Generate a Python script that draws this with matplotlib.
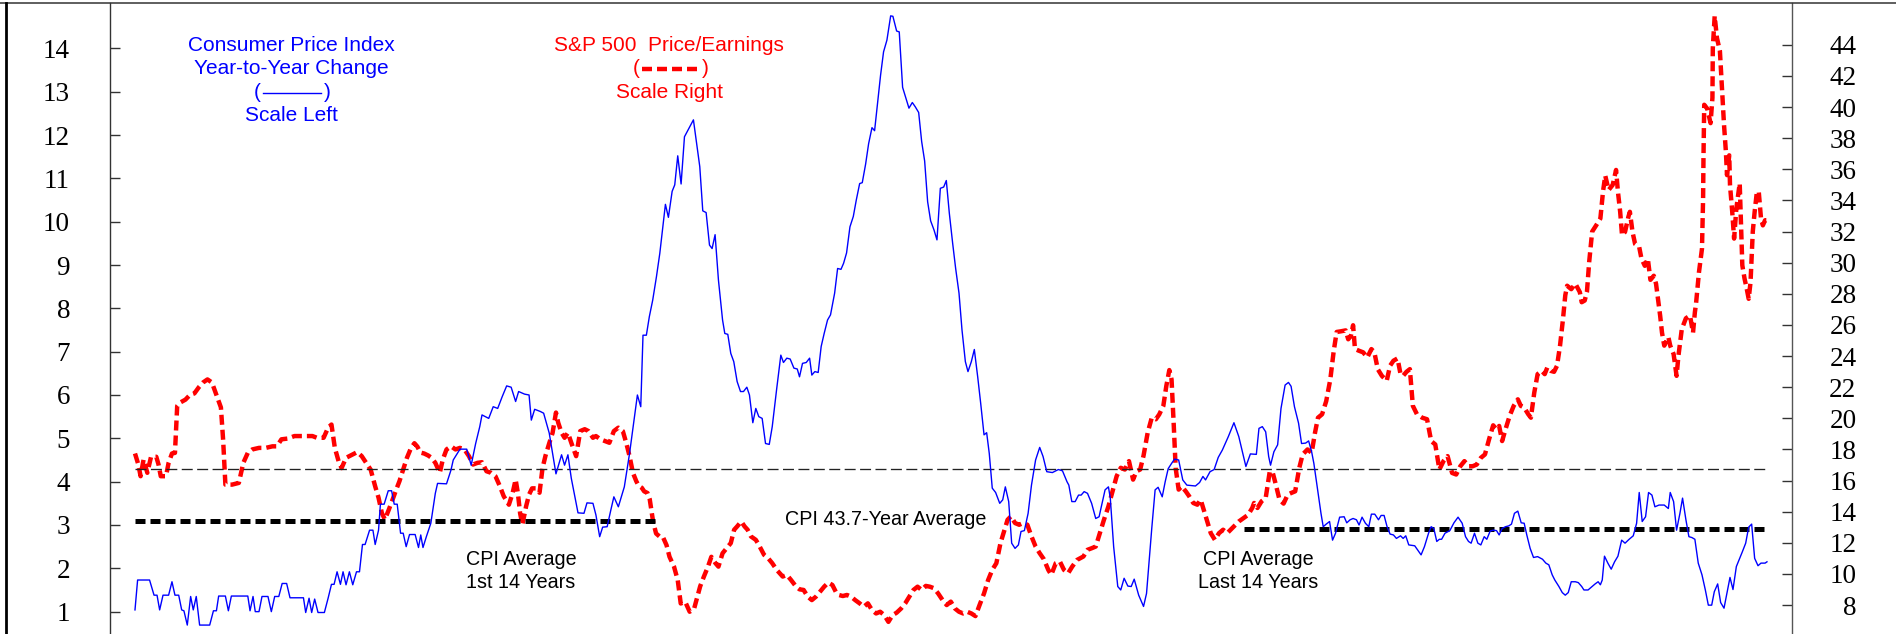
import matplotlib.pyplot as plt
from matplotlib.lines import Line2D

plt.rcParams['lines.scale_dashes'] = False

# years since start of the series (Jan 1960), monthly-ish readings
cpi_points = [
    (0.00, 1.04), (0.07, 1.73), (0.39, 1.73), (0.51, 1.38), (0.59, 1.38), (0.66, 1.04), (0.75, 1.38),
    (0.90, 1.38), (0.99, 1.69), (1.07, 1.38), (1.17, 1.38), (1.25, 1.04), (1.31, 1.02), (1.40, 0.69),
    (1.49, 1.35), (1.56, 1.04), (1.64, 1.35), (1.73, 0.69), (2.00, 0.69), (2.10, 1.02), (2.18, 1.02),
    (2.24, 1.36), (2.42, 1.36), (2.50, 1.02), (2.58, 1.36), (3.02, 1.36), (3.08, 1.02), (3.16, 1.35),
    (3.22, 1.00), (3.32, 1.00), (3.40, 1.35), (3.56, 1.35), (3.65, 1.00), (3.74, 1.35), (3.85, 1.35),
    (3.94, 1.65), (4.06, 1.65), (4.15, 1.32), (4.51, 1.32), (4.57, 0.98), (4.66, 1.31), (4.73, 0.98),
    (4.81, 1.29), (4.90, 0.98), (5.07, 0.98), (5.17, 1.31), (5.26, 1.63), (5.33, 1.63), (5.41, 1.92),
    (5.50, 1.63), (5.57, 1.92), (5.65, 1.62), (5.74, 1.92), (5.83, 1.62), (5.93, 1.92), (6.01, 1.92),
    (6.09, 2.55), (6.16, 2.55), (6.28, 2.88), (6.37, 2.88), (6.43, 2.55), (6.52, 2.88), (6.57, 3.48),
    (6.67, 3.48), (6.78, 3.79), (6.87, 3.79), (6.94, 3.48), (7.02, 3.48), (7.11, 2.81), (7.18, 2.81),
    (7.26, 2.50), (7.35, 2.78), (7.50, 2.78), (7.59, 2.48), (7.65, 2.77), (7.71, 2.48), (7.80, 2.73),
    (7.92, 3.04), (8.04, 3.73), (8.10, 3.96), (8.34, 3.95), (8.46, 4.27), (8.52, 4.50), (8.70, 4.75),
    (8.88, 4.75), (9.00, 4.38), (9.12, 4.88), (9.23, 5.27), (9.29, 5.54), (9.47, 5.46), (9.59, 5.73),
    (9.71, 5.69), (9.83, 5.96), (9.95, 6.21), (10.07, 6.18), (10.19, 5.85), (10.27, 6.08), (10.43, 6.02),
    (10.55, 6.00), (10.61, 5.42), (10.70, 5.67), (10.85, 5.62), (10.94, 5.58), (11.09, 5.12), (11.27, 4.18),
    (11.42, 4.62), (11.50, 4.38), (11.59, 4.62), (11.68, 4.08), (11.74, 3.81), (11.86, 3.28), (12.02, 3.27),
    (12.10, 3.51), (12.26, 3.50), (12.34, 3.23), (12.44, 2.73), (12.52, 2.95), (12.64, 2.96), (12.74, 3.35),
    (12.82, 3.65), (12.94, 3.42), (13.10, 3.88), (13.24, 4.65), (13.36, 5.42), (13.45, 6.00), (13.54, 5.73),
    (13.60, 7.38), (13.69, 7.38), (13.77, 7.81), (13.86, 8.19), (13.96, 8.73), (14.05, 9.27), (14.20, 10.40),
    (14.28, 10.10), (14.38, 10.70), (14.45, 10.85), (14.53, 11.52), (14.62, 10.87), (14.71, 11.96),
    (14.95, 12.35), (15.12, 11.27), (15.20, 10.25), (15.29, 10.21), (15.38, 9.46), (15.45, 9.38),
    (15.53, 9.70), (15.62, 8.65), (15.73, 7.73), (15.79, 7.42), (15.87, 7.40), (15.95, 6.96), (16.03, 6.77),
    (16.12, 6.31), (16.21, 6.08), (16.29, 6.08), (16.38, 6.18), (16.45, 6.00), (16.54, 5.36), (16.62, 5.69),
    (16.70, 5.50), (16.79, 5.46), (16.88, 4.88), (16.98, 4.86), (17.06, 5.27), (17.18, 6.15), (17.29, 6.92),
    (17.36, 6.75), (17.45, 6.85), (17.54, 6.83), (17.64, 6.62), (17.73, 6.60), (17.79, 6.42), (17.87, 6.73),
    (17.97, 6.75), (18.06, 6.85), (18.12, 6.46), (18.20, 6.54), (18.29, 6.52), (18.37, 7.12), (18.45, 7.42),
    (18.54, 7.73), (18.62, 7.85), (18.73, 8.35), (18.81, 8.92), (18.90, 8.90), (18.97, 9.04), (19.05, 9.28),
    (19.14, 9.88), (19.23, 10.12), (19.31, 10.50), (19.40, 10.88), (19.47, 10.90), (19.56, 11.33),
    (19.64, 11.80), (19.73, 12.17), (19.80, 12.10), (19.87, 12.65), (19.96, 13.38), (20.04, 13.92),
    (20.13, 14.19), (20.23, 14.75), (20.29, 14.74), (20.39, 14.40), (20.46, 14.38), (20.55, 13.10),
    (20.64, 12.85), (20.72, 12.62), (20.81, 12.75), (20.89, 12.65), (20.98, 12.52), (21.06, 11.85),
    (21.14, 11.40), (21.22, 10.46), (21.30, 10.02), (21.39, 9.81), (21.47, 9.58), (21.56, 10.77),
    (21.65, 10.80), (21.72, 10.95), (21.80, 10.20), (21.89, 9.50), (21.97, 8.92), (22.06, 8.35),
    (22.14, 7.50), (22.23, 6.77), (22.30, 6.54), (22.39, 6.77), (22.47, 7.05), (22.56, 6.42), (22.64, 5.81),
    (22.73, 5.08), (22.80, 5.13), (22.87, 4.65), (22.95, 3.85), (23.04, 3.75), (23.15, 3.50), (23.23, 3.58),
    (23.30, 3.88), (23.39, 3.54), (23.47, 2.58), (23.56, 2.46), (23.65, 2.54), (23.72, 2.85), (23.81, 2.87),
    (23.91, 3.27), (24.00, 3.92), (24.11, 4.50), (24.22, 4.79), (24.31, 4.58), (24.41, 4.23), (24.56, 4.21),
    (24.72, 4.28), (24.83, 4.25), (24.95, 4.00), (25.00, 3.92), (25.08, 3.54), (25.17, 3.54), (25.26, 3.69),
    (25.33, 3.69), (25.41, 3.77), (25.50, 3.73), (25.61, 3.50), (25.72, 3.15), (25.81, 3.19), (25.89, 3.50),
    (25.97, 3.81), (26.06, 3.88), (26.11, 3.62), (26.20, 2.50), (26.31, 1.58), (26.39, 1.50), (26.48, 1.77),
    (26.58, 1.59), (26.67, 1.58), (26.75, 1.75), (26.87, 1.38), (27.00, 1.12), (27.08, 1.42), (27.22, 2.92),
    (27.31, 3.81), (27.39, 3.87), (27.50, 3.65), (27.58, 4.00), (27.66, 4.30), (27.75, 4.42), (27.83, 4.52),
    (27.94, 4.50), (28.05, 4.04), (28.16, 3.92), (28.39, 3.90), (28.50, 3.98), (28.59, 4.12), (28.66, 4.04),
    (28.78, 4.23), (28.89, 4.28), (29.00, 4.56), (29.11, 4.73), (29.27, 5.04), (29.42, 5.36), (29.55, 5.04),
    (29.74, 4.35), (29.86, 4.64), (30.02, 4.63), (30.09, 5.23), (30.18, 5.27), (30.27, 5.15), (30.35, 4.58),
    (30.40, 4.38), (30.49, 4.69), (30.59, 4.85), (30.68, 5.69), (30.79, 6.23), (30.88, 6.29), (30.95, 6.20),
    (31.04, 5.73), (31.15, 5.35), (31.23, 4.88), (31.34, 4.89), (31.42, 4.94), (31.50, 4.69), (31.56, 4.42),
    (31.67, 3.75), (31.75, 3.27), (31.81, 2.96), (31.89, 3.02), (31.98, 3.08), (32.06, 2.65), (32.14, 2.81),
    (32.25, 3.18), (32.37, 3.19), (32.44, 3.05), (32.53, 3.12), (32.61, 3.15), (32.70, 3.12), (32.77, 3.00),
    (32.85, 3.18), (32.94, 3.04), (33.03, 2.96), (33.10, 3.25), (33.19, 3.25), (33.29, 3.12), (33.36, 3.22),
    (33.44, 3.22), (33.52, 2.96), (33.60, 2.79), (33.69, 2.77), (33.77, 2.69), (33.88, 2.75), (33.95, 2.69),
    (34.02, 2.75), (34.10, 2.54), (34.26, 2.52), (34.43, 2.31), (34.52, 2.50), (34.63, 2.81), (34.70, 2.96),
    (34.77, 2.92), (34.85, 2.62), (34.92, 2.67), (34.98, 2.67), (35.07, 2.81), (35.20, 2.87), (35.31, 3.05),
    (35.42, 3.18), (35.53, 3.04), (35.62, 2.73), (35.70, 2.62), (35.77, 2.58), (35.86, 2.81), (35.95, 2.58),
    (36.03, 2.54), (36.12, 2.73), (36.19, 2.67), (36.28, 2.86), (36.36, 2.88), (36.45, 2.87), (36.52, 2.77),
    (36.60, 2.92), (36.69, 2.96), (36.78, 2.98), (36.85, 3.02), (36.93, 3.27), (37.02, 3.32), (37.11, 3.05),
    (37.19, 3.04), (37.26, 2.77), (37.35, 2.46), (37.44, 2.25), (37.55, 2.27), (37.68, 2.21), (37.77, 2.12),
    (37.85, 2.08), (37.94, 1.85), (38.01, 1.73), (38.12, 1.58), (38.21, 1.44), (38.29, 1.38), (38.37, 1.44),
    (38.45, 1.69), (38.56, 1.69), (38.64, 1.67), (38.73, 1.58), (38.79, 1.50), (38.90, 1.50), (39.01, 1.58),
    (39.09, 1.64), (39.17, 1.69), (39.23, 1.62), (39.28, 1.73), (39.34, 2.28), (39.43, 2.12), (39.52, 1.98),
    (39.61, 2.15), (39.70, 2.28), (39.80, 2.65), (39.89, 2.58), (40.00, 2.67), (40.11, 2.75), (40.20, 3.04),
    (40.27, 3.75), (40.35, 3.08), (40.44, 3.19), (40.52, 3.75), (40.61, 3.69), (40.69, 3.42), (40.80, 3.46),
    (40.94, 3.46), (41.05, 3.38), (41.10, 3.75), (41.19, 3.54), (41.27, 2.88), (41.36, 3.27), (41.43, 3.62),
    (41.52, 3.12), (41.60, 2.73), (41.68, 2.71), (41.76, 2.67), (41.85, 2.12), (41.95, 1.85), (42.04, 1.50),
    (42.12, 1.15), (42.21, 1.15), (42.28, 1.46), (42.37, 1.64), (42.45, 1.21), (42.54, 1.08), (42.62, 1.44),
    (42.70, 1.79), (42.78, 1.51), (42.87, 2.04), (42.96, 2.23), (43.03, 2.38), (43.12, 2.58), (43.20, 2.95),
    (43.28, 3.02), (43.36, 2.23), (43.45, 2.06), (43.53, 2.12), (43.64, 2.12), (43.69, 2.15),
]

pe_points = [
    (0.00, 17.74), (0.09, 17.03), (0.15, 16.28), (0.23, 17.35), (0.33, 16.50), (0.43, 17.53), (0.57, 17.53),
    (0.63, 17.03), (0.69, 16.28), (0.83, 16.28), (0.90, 17.14), (0.99, 17.74), (1.07, 17.78), (1.13, 20.80),
    (1.20, 21.00), (1.35, 21.20), (1.47, 21.50), (1.59, 21.60), (1.71, 22.00), (1.82, 22.30), (1.94, 22.50),
    (2.06, 22.30), (2.18, 21.50), (2.30, 20.70), (2.36, 18.60), (2.42, 15.74), (2.60, 15.74), (2.78, 15.85),
    (2.90, 17.14), (3.02, 17.78), (3.14, 18.00), (3.32, 18.10), (3.50, 18.10), (3.68, 18.20), (3.80, 18.20),
    (3.92, 18.65), (4.09, 18.70), (4.27, 18.86), (4.51, 18.86), (4.75, 18.86), (4.87, 18.75), (5.05, 18.75),
    (5.17, 19.40), (5.26, 19.60), (5.35, 18.10), (5.45, 17.25), (5.53, 16.80), (5.65, 17.46), (5.83, 17.68),
    (5.95, 17.83), (6.07, 17.57), (6.19, 17.14), (6.31, 16.70), (6.43, 15.63), (6.52, 14.90), (6.61, 13.90),
    (6.69, 13.50), (6.79, 14.10), (6.90, 14.80), (6.99, 15.40), (7.08, 15.96), (7.18, 16.70), (7.28, 17.46),
    (7.38, 18.04), (7.48, 18.40), (7.56, 18.18), (7.64, 17.80), (7.74, 17.74), (7.85, 17.61), (7.94, 17.46),
    (8.04, 17.14), (8.16, 16.50), (8.24, 17.35), (8.34, 18.00), (8.46, 18.20), (8.58, 18.00), (8.70, 18.10),
    (8.82, 18.00), (8.94, 17.57), (9.05, 17.03), (9.17, 17.14), (9.29, 17.18), (9.41, 16.60), (9.53, 16.50),
    (9.65, 16.28), (9.77, 15.63), (9.87, 15.00), (10.01, 14.45), (10.11, 15.20), (10.19, 16.06), (10.25, 15.20),
    (10.31, 13.90), (10.37, 13.16), (10.47, 14.34), (10.55, 15.10), (10.63, 15.50), (10.73, 15.50),
    (10.83, 15.22), (10.91, 16.80), (10.99, 17.60), (11.09, 18.40), (11.18, 19.07), (11.27, 20.37),
    (11.33, 19.72), (11.42, 19.07), (11.50, 18.75), (11.59, 19.07), (11.68, 18.43), (11.81, 17.57),
    (11.92, 19.18), (12.04, 19.30), (12.14, 19.18), (12.26, 18.75), (12.34, 18.86), (12.46, 18.65),
    (12.58, 18.54), (12.70, 18.43), (12.82, 19.18), (12.94, 19.40), (13.06, 19.18), (13.15, 18.43),
    (13.24, 17.57), (13.33, 16.50), (13.42, 15.96), (13.48, 15.68), (13.57, 15.53), (13.63, 15.31),
    (13.72, 15.20), (13.78, 14.80), (13.87, 13.37), (13.95, 12.60), (14.05, 12.39), (14.13, 12.39),
    (14.23, 11.85), (14.31, 11.10), (14.43, 10.47), (14.53, 9.60), (14.61, 8.10), (14.73, 8.21), (14.85, 7.57),
    (14.97, 7.78), (15.13, 9.20), (15.23, 9.83), (15.34, 10.47), (15.43, 11.10), (15.54, 10.69), (15.62, 10.47),
    (15.73, 11.33), (15.84, 11.65), (15.95, 11.98), (16.04, 12.84), (16.12, 13.05), (16.23, 13.37),
    (16.32, 13.05), (16.40, 12.84), (16.49, 12.41), (16.62, 12.19), (16.70, 11.87), (16.84, 11.23),
    (16.95, 11.01), (17.06, 10.69), (17.18, 10.26), (17.34, 9.83), (17.45, 9.94), (17.56, 9.62), (17.70, 9.18),
    (17.79, 9.01), (17.90, 8.97), (18.01, 8.54), (18.12, 8.32), (18.23, 8.54), (18.34, 8.86), (18.45, 9.18),
    (18.56, 9.44), (18.67, 9.29), (18.76, 8.86), (18.84, 8.65), (18.95, 8.58), (19.06, 8.65), (19.17, 8.54),
    (19.28, 8.32), (19.40, 8.11), (19.51, 7.89), (19.62, 8.11), (19.73, 7.68), (19.84, 7.46), (19.95, 7.57),
    (20.06, 7.35), (20.17, 6.92), (20.28, 7.35), (20.39, 7.51), (20.51, 7.78), (20.62, 8.11), (20.73, 8.54),
    (20.84, 8.97), (20.95, 9.18), (21.06, 8.97), (21.17, 9.23), (21.28, 9.18), (21.39, 9.08), (21.50, 8.75),
    (21.62, 8.32), (21.73, 8.00), (21.84, 8.22), (21.95, 7.78), (22.06, 7.57), (22.17, 7.46), (22.28, 7.57),
    (22.39, 7.46), (22.50, 7.29), (22.61, 8.00), (22.73, 8.75), (22.84, 9.61), (22.95, 10.26), (23.06, 10.69),
    (23.17, 11.98), (23.28, 12.84), (23.36, 13.48), (23.45, 13.70), (23.56, 13.27), (23.67, 13.16),
    (23.78, 13.27), (23.89, 13.16), (24.00, 12.41), (24.11, 11.76), (24.22, 11.33), (24.33, 10.95),
    (24.45, 10.26), (24.53, 9.94), (24.65, 10.69), (24.76, 10.80), (24.87, 10.26), (24.98, 10.04),
    (25.09, 10.47), (25.22, 10.90), (25.39, 11.12), (25.50, 11.55), (25.61, 11.65), (25.72, 11.76),
    (25.83, 12.62), (25.94, 13.48), (26.06, 14.34), (26.17, 15.31), (26.28, 16.28), (26.39, 16.82),
    (26.50, 16.71), (26.61, 17.25), (26.72, 16.06), (26.81, 16.60), (26.91, 16.71), (27.00, 17.60),
    (27.11, 19.07), (27.22, 20.04), (27.33, 19.94), (27.42, 20.25), (27.53, 20.80), (27.61, 22.08),
    (27.69, 23.10), (27.75, 22.50), (27.81, 19.50), (27.86, 16.80), (27.94, 15.42), (28.02, 15.63),
    (28.13, 15.31), (28.22, 15.00), (28.33, 14.56), (28.44, 14.45), (28.53, 14.77), (28.61, 14.13),
    (28.72, 13.27), (28.80, 12.62), (28.91, 12.19), (29.02, 12.62), (29.13, 12.84), (29.24, 12.62),
    (29.33, 12.84), (29.44, 13.10), (29.55, 13.37), (29.68, 13.59), (29.80, 13.80), (29.91, 14.24),
    (29.96, 14.56), (30.05, 14.24), (30.16, 14.67), (30.27, 14.88), (30.38, 16.60), (30.46, 16.49),
    (30.53, 15.85), (30.64, 14.77), (30.75, 14.52), (30.86, 15.10), (30.95, 15.20), (31.06, 15.31),
    (31.17, 16.82), (31.26, 17.68), (31.39, 18.00), (31.50, 17.78), (31.59, 19.07), (31.67, 20.04),
    (31.78, 20.26), (31.89, 21.10), (32.00, 22.50), (32.09, 24.30), (32.17, 25.55), (32.28, 25.59),
    (32.41, 25.65), (32.48, 25.08), (32.55, 25.29), (32.61, 25.98), (32.66, 24.45), (32.77, 24.34),
    (32.88, 24.24), (32.99, 23.91), (33.10, 24.45), (33.18, 24.24), (33.27, 23.16), (33.38, 22.73),
    (33.51, 22.41), (33.60, 23.38), (33.69, 23.70), (33.80, 23.85), (33.88, 22.84), (33.95, 22.73),
    (34.04, 22.99), (34.13, 23.16), (34.21, 20.80), (34.32, 20.26), (34.46, 20.04), (34.59, 19.94),
    (34.70, 18.54), (34.81, 18.32), (34.92, 16.71), (35.03, 17.25), (35.14, 17.57), (35.26, 16.49),
    (35.37, 16.39), (35.48, 16.92), (35.59, 17.25), (35.70, 16.92), (35.81, 16.92), (35.92, 17.03),
    (36.03, 17.46), (36.14, 17.68), (36.25, 18.65), (36.36, 19.55), (36.45, 19.29), (36.52, 19.51),
    (36.60, 18.54), (36.69, 19.29), (36.80, 20.15), (36.91, 20.80), (37.02, 21.22), (37.10, 20.80),
    (37.19, 20.69), (37.30, 20.26), (37.37, 20.04), (37.46, 21.65), (37.55, 22.84), (37.66, 23.05),
    (37.74, 22.84), (37.81, 23.27), (37.90, 23.05), (37.99, 22.99), (38.07, 23.38), (38.15, 24.67),
    (38.23, 26.40), (38.29, 27.90), (38.34, 28.52), (38.45, 28.30), (38.56, 28.65), (38.68, 28.11),
    (38.73, 27.46), (38.81, 27.57), (38.87, 28.11), (38.93, 30.04), (39.01, 32.00), (39.12, 32.41),
    (39.23, 32.84), (39.30, 34.56), (39.36, 35.60), (39.45, 34.67), (39.56, 35.00), (39.65, 35.96),
    (39.70, 34.56), (39.76, 33.27), (39.81, 31.76), (39.89, 31.98), (39.98, 32.95), (40.02, 33.27),
    (40.09, 31.98), (40.16, 31.20), (40.27, 31.00), (40.33, 30.26), (40.42, 29.80), (40.50, 30.26),
    (40.57, 28.90), (40.66, 29.16), (40.72, 28.65), (40.77, 27.70), (40.83, 26.60), (40.88, 25.50),
    (40.94, 24.67), (41.05, 25.22), (41.10, 24.67), (41.19, 24.13), (41.27, 22.73), (41.32, 24.02),
    (41.41, 25.74), (41.52, 26.43), (41.63, 26.60), (41.71, 25.50), (41.76, 26.82), (41.79, 27.35),
    (41.87, 29.40), (41.95, 30.90), (41.98, 34.13), (41.99, 36.70), (42.01, 40.15), (42.09, 39.90),
    (42.18, 38.97), (42.23, 40.60), (42.24, 43.80), (42.29, 45.85), (42.35, 44.45), (42.43, 43.60),
    (42.48, 41.44), (42.54, 38.86), (42.59, 37.14), (42.62, 35.63), (42.68, 36.90), (42.70, 35.00),
    (42.76, 33.27), (42.81, 31.55), (42.87, 33.48), (42.96, 35.10), (43.00, 32.00), (43.03, 29.83),
    (43.09, 28.97), (43.14, 28.43), (43.20, 27.68), (43.25, 28.75), (43.31, 32.00), (43.36, 33.27),
    (43.42, 34.56), (43.47, 34.56), (43.53, 32.84), (43.58, 32.40), (43.64, 32.73), (43.69, 32.73),
]

avg_all = 4.3      # CPI 43.7-year average
avg_first = 3.1    # first 14 years
avg_last = 2.9     # last 14 years
span_years = 14

left_ticks = list(range(1, 15))
right_ticks = list(range(8, 45, 2))

cpi_t, cpi_val = zip(*cpi_points)
pe_t, pe_val = zip(*pe_points)

W, H = 1896, 634
BLUE = '#0000ff'
RED = '#ff0000'
SANS = 'Liberation Sans'
SERIF = 'Liberation Serif'


def fx(x):
    return x / W


def fy(y):
    return 1 - y / H


fig = plt.figure(figsize=(W / 100, H / 100), dpi=100)
ax = fig.add_axes([fx(110), 0, (1792 - 110) / W, fy(3.3)])
ax2 = ax.twinx()
ax.set_zorder(ax2.get_zorder() + 1)
ax.patch.set_visible(False)

# P/E on the right scale
ax2.plot(pe_t, pe_val, color=RED, lw=3.2, dashes=(7.2, 3.6))

# CPI and its averages on the left scale
t0, t1 = cpi_t[0], cpi_t[-1]
ax.plot([t0, t1], [avg_all, avg_all], color='#222222', lw=0.95, dashes=(7.9, 3.2))
ax.plot([t0, t0 + span_years], [avg_first, avg_first], color='black', lw=3.6, dashes=(7.2, 3.6))
ax.plot([t1 - span_years, t1], [avg_last, avg_last], color='black', lw=3.6, dashes=(7.2, 3.6))
ax.plot(cpi_t, cpi_val, color=BLUE, lw=1.0)

ax.set_xlim(-0.669, 44.36)
ax.set_ylim(0.484, 15.04)
ax2.set_ylim(6.14, 46.67)
ax.set_xticks([])

for s in ['top', 'bottom', 'right']:
    ax.spines[s].set_visible(False)
for s in ['top', 'bottom', 'left']:
    ax2.spines[s].set_visible(False)
ax.spines['left'].set_color('#333333')
ax.spines['left'].set_linewidth(1.0)
ax2.spines['right'].set_color('#555555')
ax2.spines['right'].set_linewidth(1.0)

ax.set_yticks(left_ticks)
ax.tick_params(axis='y', direction='in', length=7, width=1, color='#333333',
               pad=28.8, labelsize=19.5, labelfontfamily=SERIF)
ax2.set_yticks(right_ticks)
ax2.tick_params(axis='y', direction='in', length=7, width=1, color='#333333',
                pad=46.4, labelsize=19.5, labelfontfamily=SERIF)
plt.setp(ax2.get_yticklabels(), ha='right')

# annotations
ax.text(10.33, 1.94, 'CPI Average\n1st 14 Years', ha='center', va='center',
        fontsize=14.2, family=SANS, linespacing=1.3)
ax.text(20.11, 3.12, 'CPI 43.7-Year Average', ha='center', va='center',
        fontsize=14.2, family=SANS)
ax.text(30.07, 1.94, 'CPI Average\nLast 14 Years', ha='center', va='center',
        fontsize=14.2, family=SANS, linespacing=1.3)

# header keys
kw = dict(ha='center', va='center', fontsize=15, family=SANS)
fig.text(fx(291), fy(45.7), 'Consumer Price Index', color=BLUE, **kw)
fig.text(fx(291), fy(69), 'Year-to-Year Change', color=BLUE, **kw)
fig.text(fx(257), fy(92.7), '(', color=BLUE, **kw)
fig.text(fx(327), fy(92.7), ')', color=BLUE, **kw)
fig.add_artist(Line2D([fx(263), fx(321)], [fy(92.7), fy(92.7)], color=BLUE, lw=1.0,
                      transform=fig.transFigure))
fig.text(fx(291), fy(115.7), 'Scale Left', color=BLUE, **kw)

fig.text(fx(669), fy(45.7), 'S&P 500  Price/Earnings', color=RED, **kw)
fig.text(fx(636), fy(69), '(', color=RED, **kw)
fig.text(fx(705), fy(69), ')', color=RED, **kw)
fig.add_artist(Line2D([fx(642), fx(697)], [fy(69), fy(69)], color=RED, lw=3.2, dashes=(7.2, 3.6),
                      transform=fig.transFigure))
fig.text(fx(669), fy(92.7), 'Scale Right', color=RED, **kw)

# outer frame (top and left edges)
fig.add_artist(Line2D([0, 1], [fy(3.3), fy(3.3)], color='#333333', lw=1.1, transform=fig.transFigure))
fig.add_artist(Line2D([fx(6), fx(6)], [0, fy(3.3)], color='black', lw=2.0, transform=fig.transFigure))

fig.savefig('out.png', dpi=100)
